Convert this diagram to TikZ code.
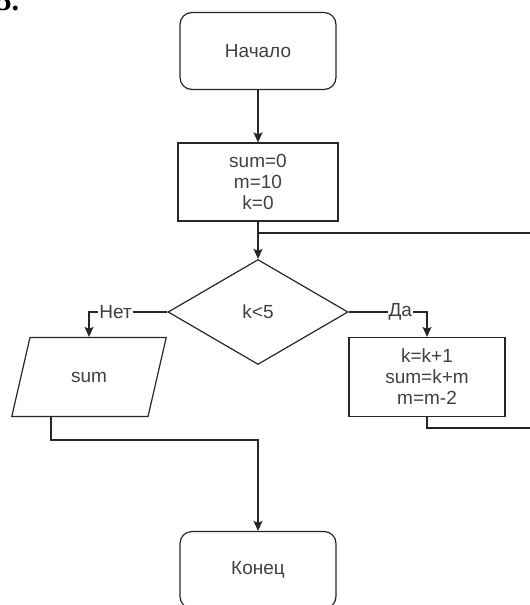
\documentclass[tikz,border=0pt]{standalone}
\usepackage{fontspec}
\setmainfont{Liberation Sans}
\newfontfamily\numfont{Liberation Serif}
\usetikzlibrary{shapes.geometric,arrows.meta,positioning}

\begin{document}
\begin{tikzpicture}[x=1pt,y=-1pt,line width=1.2pt,color=black!85,
	every node/.style={font=\fontsize{19}{21}\selectfont,text=black!75},
	term/.style={draw,rounded corners=12pt,minimum width=156pt,minimum height=77pt},
	proc/.style={draw,align=center,minimum width=160pt,minimum height=78pt},
	cond/.style={draw,diamond,inner sep=0pt,minimum width=180pt,minimum height=105pt},
	io/.style={draw,trapezium,trapezium left angle=69,trapezium right angle=111,
		trapezium stretches=true,minimum width=155pt,minimum height=79pt},
	arr/.style={-{Stealth[length=10pt,width=9pt,inset=2pt]}},
	lbl/.style={fill=white,inner sep=1pt}]
	\useasboundingbox (0,0) rectangle (530,605);
	\node[anchor=base west,inner sep=0pt,text=black,font=\numfont\bfseries\fontsize{30}{30}\selectfont] (task) at (-4,10) {5.};
	\node[term] (start) at (258,51) {Начало};
	\node[proc] (init) at (258,182) {sum=0\\m=10\\k=0};
	\node[cond] (check) at (258,312) {k<5};
	\node[io] (out) at (89,377) {sum};
	\node[proc,minimum width=156pt,minimum height=79pt] (body) at (427,377) {k=k+1\\sum=k+m\\m=m-2};
	\node[term] (stop) at (258,570) {Конец};
	\coordinate (back) at (540,428);
	\coordinate (merge) at (258,233);
	\coordinate (turn) at (51,440);
	\draw[arr] (start) -- (init);
	\draw[arr] (init) -- (check);
	\draw (body.south) |- (back) |- (merge);
	\draw[arr] (check.west) -| node[lbl,pos=0.33] {Нет} (out.north);
	\draw[arr] (check.east) -| node[lbl,pos=0.33] {Да} (body.north);
	\draw[arr] (out.south -| turn) -- (turn) -| (stop.north);
\end{tikzpicture}
\end{document}
